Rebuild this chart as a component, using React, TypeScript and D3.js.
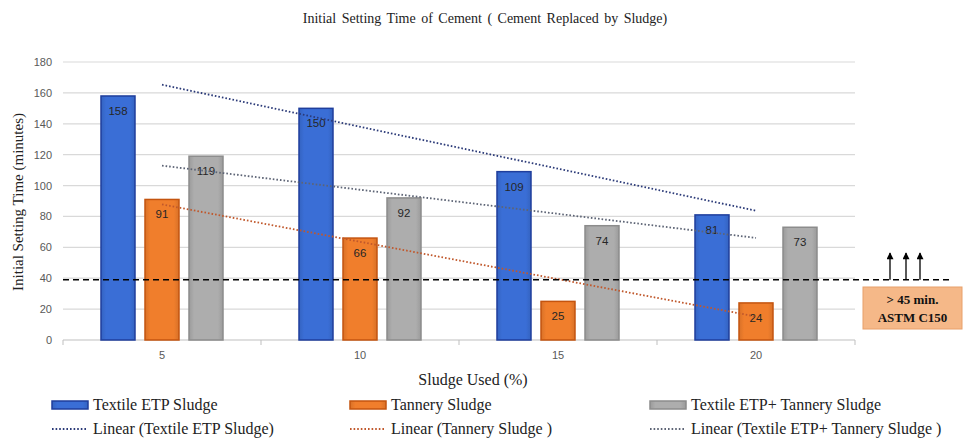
import React from "react";
import * as d3 from "d3";

const categories = ["5", "10", "15", "20"];
const seriesNames = ["Textile ETP Sludge", "Tannery Sludge", "Textile ETP+ Tannery Sludge"];
const trendNames = ["Linear (Textile ETP Sludge)", "Linear (Tannery Sludge )", "Linear (Textile ETP+ Tannery Sludge )"];
const textileValues = [158, 150, 109, 81];
const tanneryValues = [91, 66, 25, 24];
const mixValues = [119, 92, 74, 73];
const yTicks = [0, 20, 40, 60, 80, 100, 120, 140, 160, 180];
const limitValue = 39;

const W = 965, H = 438;
const M = { left: 63, right: 855, top: 62, bottom: 340 };

const fills = ["#3A6ED6", "#F07E2C", "#ADADAD"];
const strokes = ["#1F3E9C", "#C4540F", "#8C8C8C"];
const trendColors = ["#2B3A78", "#C0582C", "#5D6475"];

function linearFit(vals: number[]) {
  const n = vals.length;
  const xs = vals.map((_, i) => i + 1);
  const mx = d3.mean(xs)!;
  const my = d3.mean(vals)!;
  const sxy = d3.sum(xs.map((x, i) => (x - mx) * (vals[i] - my)));
  const sxx = d3.sum(xs.map((x) => (x - mx) ** 2));
  const b = sxy / sxx;
  const a = my - b * mx;
  return [a + b * 1, a + b * n];
}

export default function App() {
  const data = [textileValues, tanneryValues, mixValues];
  const x0 = d3.scaleBand<string>().domain(categories).range([M.left, M.right]).paddingInner(0).paddingOuter(0);
  const x1 = d3.scaleBand<string>().domain(seriesNames).range([0, x0.bandwidth()]).paddingInner(0.2273).paddingOuter(0.8636);
  const y = d3.scaleLinear().domain([0, 180]).range([M.bottom, M.top]);
  const cx = (c: string) => x0(c)! + x0.bandwidth() / 2;
  const serif = "'Liberation Serif', 'Times New Roman', serif";
  const sans = "'Liberation Sans', Arial, sans-serif";
  const boundaries = [...categories.map((c) => x0(c)!), M.right];
  const limitY = y(limitValue);
  const arrowXs = [890, 906, 920];

  const legendCols = [52, 350, 650];

  return (
    <svg width={W} height={H} style={{ position: "absolute", left: 0, top: 0, background: "#fff" }}>
      <defs>
        <marker id="ah" viewBox="0 0 10 10" refX="9" refY="5" markerWidth="9" markerHeight="7" orient="auto" markerUnits="userSpaceOnUse">
          <path d="M0,0 L10,5 L0,10 Z" fill="#000" />
        </marker>
        {fills.map((f, i) => (
          <linearGradient key={i} id={"g" + i} x1="0" x2="1" y1="0" y2="0">
            <stop offset="0" stopColor={d3.color(f)!.darker(0.3).toString()} />
            <stop offset="0.15" stopColor={f} />
            <stop offset="0.85" stopColor={f} />
            <stop offset="1" stopColor={d3.color(f)!.darker(0.3).toString()} />
          </linearGradient>
        ))}
      </defs>
      <text x={485} y={23} textAnchor="middle" fontFamily={serif} fontSize={14} fill="#222" style={{ wordSpacing: "2px" }}>
        Initial Setting Time of Cement ( Cement Replaced by Sludge)
      </text>
      {yTicks.map((t) => (
        <g key={t}>
          {t > 0 && <line x1={M.left} x2={M.right} y1={y(t)} y2={y(t)} stroke="#D9D9D9" strokeWidth={1.2} />}
          <text x={52} y={y(t) + 4} textAnchor="end" fontFamily={sans} fontSize={11} fill="#595959">{t}</text>
        </g>
      ))}
      <line x1={M.left} x2={M.right} y1={M.bottom} y2={M.bottom} stroke="#BFBFBF" strokeWidth={1.2} />
      {boundaries.map((b, i) => (
        <line key={i} x1={b} x2={b} y1={M.bottom} y2={M.bottom + 5} stroke="#BFBFBF" strokeWidth={1} />
      ))}
      {categories.map((c) => (
        <text key={c} x={cx(c)} y={359} textAnchor="middle" fontFamily={sans} fontSize={11} fill="#595959">{c}</text>
      ))}
      <text x={473} y={385} textAnchor="middle" fontFamily={serif} fontSize={16} fill="#222">Sludge Used (%)</text>
      <text transform={`translate(23,202) rotate(-90)`} textAnchor="middle" fontFamily={serif} fontSize={15} fill="#222">
        Initial Setting Time (minutes)
      </text>
      {data.map((vals, si) =>
        vals.map((v, ci) => {
          const bx = x0(categories[ci])! + x1(seriesNames[si])!;
          return (
            <g key={si + "-" + ci}>
              <rect x={bx} y={y(v)} width={x1.bandwidth()} height={M.bottom - y(v)} fill={`url(#g${si})`} stroke={strokes[si]} strokeWidth={1.5} />
              <text x={bx + x1.bandwidth() / 2} y={y(v) + 19} textAnchor="middle" fontFamily={sans} fontSize={11.5} fill="#262626">{v}</text>
            </g>
          );
        })
      )}
      {data.map((vals, si) => {
        const [a, b] = linearFit(vals);
        return (
          <line key={"t" + si} x1={cx(categories[0])} x2={cx(categories[categories.length - 1])} y1={y(a)} y2={y(b)}
            stroke={trendColors[si]} strokeWidth={1.8} strokeDasharray="1.6 2" />
        );
      })}
      <line x1={M.left} x2={953} y1={limitY} y2={limitY} stroke="#000" strokeWidth={1.4} strokeDasharray="6 4" />
      {arrowXs.map((ax) => (
        <line key={ax} x1={ax} x2={ax} y1={limitY} y2={253} stroke="#000" strokeWidth={1.3} markerEnd="url(#ah)" />
      ))}
      <rect x={863} y={287} width={99} height={42} fill="#F5B888" stroke="#E8A06A" strokeWidth={1} />
      <text x={912.5} y={304} textAnchor="middle" fontFamily={serif} fontSize={13} fontWeight="bold" fill="#111">&gt; 45 min.</text>
      <text x={912.5} y={322} textAnchor="middle" fontFamily={serif} fontSize={13} fontWeight="bold" fill="#111">ASTM C150</text>
      {seriesNames.map((n, i) => (
        <g key={"l" + i}>
          <rect x={legendCols[i]} y={401} width={36} height={8} fill={`url(#g${i})`} stroke={strokes[i]} strokeWidth={1.5} />
          <text x={legendCols[i] + 41} y={410} fontFamily={serif} fontSize={16} fill="#222">{n}</text>
          <line x1={legendCols[i]} x2={legendCols[i] + 36} y1={429} y2={429} stroke={trendColors[i]} strokeWidth={1.8} strokeDasharray="1.6 2" />
          <text x={legendCols[i] + 41} y={434} fontFamily={serif} fontSize={16} fill="#222">{trendNames[i]}</text>
        </g>
      ))}
    </svg>
  );
}
